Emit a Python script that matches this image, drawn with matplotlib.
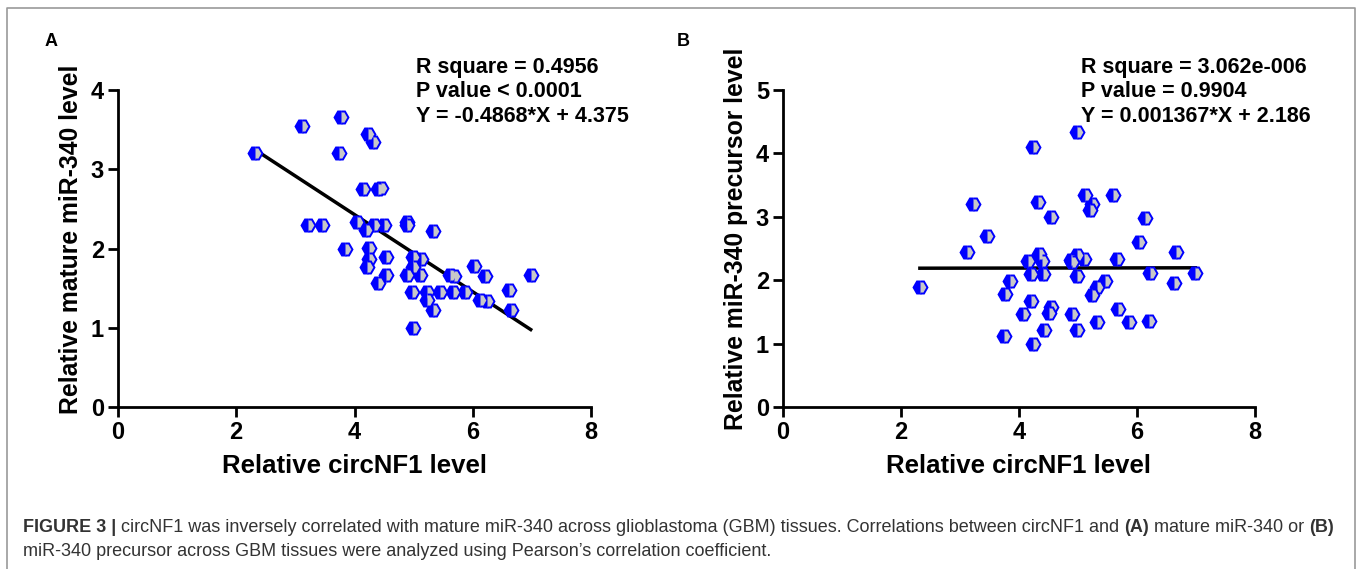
import matplotlib
matplotlib.use("Agg")
import matplotlib.pyplot as plt
import numpy as np

# ---------------- data ----------------
a_x = [2.32, 3.12, 3.77, 3.74, 4.22, 4.32, 4.15, 4.40, 4.45, 3.21, 3.45, 4.04, 4.20,
       4.33, 4.50, 4.88, 4.88, 5.32, 3.84, 4.24, 4.24, 4.21, 4.54, 4.54, 4.39, 4.99,
       5.13, 4.99, 4.88, 5.10, 4.97, 5.22, 5.22, 5.32, 5.44, 5.66, 5.87, 5.61, 5.69,
       6.02, 6.21, 6.13, 6.24, 6.62, 6.65, 6.98, 4.99]
a_y = [3.21, 3.55, 3.66, 3.21, 3.45, 3.34, 2.75, 2.75, 2.76, 2.30, 2.30, 2.33, 2.23,
       2.30, 2.30, 2.33, 2.30, 2.22, 1.99, 2.01, 1.87, 1.77, 1.89, 1.67, 1.56, 1.89,
       1.87, 1.77, 1.66, 1.67, 1.45, 1.45, 1.35, 1.23, 1.45, 1.45, 1.45, 1.67, 1.65,
       1.78, 1.65, 1.35, 1.34, 1.48, 1.23, 1.67, 1.00]
a_slope, a_intercept = -0.4868, 4.375
a_stats = ["R square = 0.4956", "P value < 0.0001", "Y = -0.4868*X + 4.375"]

b_x = [4.99, 4.23, 3.22, 4.33, 5.12, 5.60, 5.24, 5.20, 4.54, 6.13, 3.45, 6.03, 3.12,
       6.66, 4.34, 4.15, 4.39, 4.88, 4.99, 5.11, 5.66, 4.90, 4.21, 4.40, 4.99, 6.22,
       6.99, 2.32, 3.85, 3.77, 5.45, 5.33, 5.23, 6.62, 4.21, 4.54, 4.50, 4.06, 4.89,
       5.67, 5.33, 5.87, 6.21, 4.43, 4.99, 3.75, 4.23]
b_y = [4.33, 4.10, 3.20, 3.23, 3.34, 3.34, 3.20, 3.11, 3.00, 2.98, 2.70, 2.60, 2.44,
       2.44, 2.41, 2.31, 2.30, 2.32, 2.39, 2.34, 2.34, 2.28, 2.10, 2.10, 2.06, 2.11,
       2.12, 1.89, 1.99, 1.79, 1.99, 1.90, 1.76, 1.96, 1.67, 1.57, 1.49, 1.46, 1.46,
       1.54, 1.34, 1.34, 1.36, 1.22, 1.22, 1.12, 1.00]
b_slope, b_intercept = 0.001367, 2.186
b_stats = ["R square = 3.062e-006", "P value = 0.9904", "Y = 0.001367*X + 2.186"]

x_ticks = [0, 2, 4, 6, 8]
a_yticks = [0, 1, 2, 3, 4]
b_yticks = [0, 1, 2, 3, 4, 5]
x_label = "Relative circNF1 level"
a_ylabel = "Relative mature miR-340 level"
b_ylabel = "Relative miR-340 precursor level"

# ---------------- figure ----------------
W, H = 1357, 569
fig = plt.figure(figsize=(W / 100, H / 100), dpi=100)
plt.rcParams['font.family'] = ['Liberation Sans', 'DejaVu Sans']

def px_axes(l, r, t, b):
    return fig.add_axes([l / W, (H - b) / H, (r - l) / W, (b - t) / H])

axA = px_axes(118, 591, 90, 407)
axB = px_axes(783, 1255, 90, 407)

def style(ax, xs, ys, slope, icpt, yticks, ylabel, stats, stats_x):
    ax.plot(xs, ys, linestyle='none', marker='H', markersize=10,
            markerfacecolor='#0000ff', markerfacecoloralt='#c8c8c8',
            fillstyle='left', markeredgecolor='#0000ff', markeredgewidth=1.4,
            zorder=3)
    lx = np.array([min(xs), max(xs)])
    ax.plot(lx, slope * lx + icpt, color='black', lw=2.5, zorder=2)
    ax.set_xlim(0, 8)
    ax.set_ylim(0, yticks[-1])
    ax.set_xticks(x_ticks)
    ax.set_yticks(yticks)
    for s in ['top', 'right']:
        ax.spines[s].set_visible(False)
    for s in ['left', 'bottom']:
        ax.spines[s].set_linewidth(2)
    ax.tick_params(width=2, length=7, labelsize=17, pad=3)
    for lab in ax.get_xticklabels() + ax.get_yticklabels():
        lab.set_fontweight('bold')
    ax.set_xlabel(x_label, fontsize=18.5, fontweight='bold', labelpad=7)
    ax.set_ylabel(ylabel, fontsize=17.8, fontweight='bold', labelpad=6)
    ax.yaxis.label.set_y(0.53)
    ax.patch.set_alpha(0)
    for i, t in enumerate(stats):
        fig.text(stats_x / W, 1 - (68 + 24 * i) / H, t, fontsize=15.5,
                 fontweight='bold', va='center', ha='left')

style(axA, a_x, a_y, a_slope, a_intercept, a_yticks, a_ylabel, a_stats, 416)
style(axB, b_x, b_y, b_slope, b_intercept, b_yticks, b_ylabel, b_stats, 1081)

fig.text(45 / W, 1 - 42 / H, "A", fontsize=13, fontweight='bold', va='center', ha='left')
fig.text(677 / W, 1 - 42 / H, "B", fontsize=13, fontweight='bold', va='center', ha='left')

# border
fig.add_artist(plt.Line2D([7 / W, 7 / W, 1355 / W, 1355 / W],
                          [0, 1 - 8 / H, 1 - 8 / H, 0], color='#9a9a9a', lw=1.2,
                          transform=fig.transFigure))

# caption with mixed weights
cap_color = '#333333'
cap_size = 12.95
line1 = [("FIGURE 3 | ", 'bold'),
         ("circNF1 was inversely correlated with mature miR-340 across glioblastoma (GBM) tissues. "
          "Correlations between circNF1 and ", 'normal'),
         ("(A)", 'bold'), (" mature miR-340 or ", 'normal'), ("(B)", 'bold')]
line2 = [("miR-340 precursor across GBM tissues were analyzed using Pearson\u2019s correlation coefficient.", 'normal')]

fig.canvas.draw()
renderer = fig.canvas.get_renderer()

def draw_runs(runs, x0, y0):
    x = x0
    for txt, wt in runs:
        t = fig.text(x / W, 1 - y0 / H, txt, fontsize=cap_size, fontweight=wt,
                     color=cap_color, va='baseline', ha='left')
        bb = t.get_window_extent(renderer=renderer)
        x += bb.width

draw_runs(line1, 23, 532)
draw_runs(line2, 23, 556)

fig.savefig("out.png", dpi=100)
